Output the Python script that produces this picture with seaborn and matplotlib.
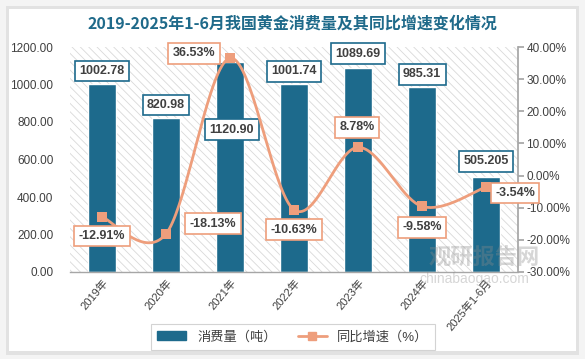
import numpy as np
import pandas as pd
import matplotlib
matplotlib.use("Agg")
import matplotlib.pyplot as plt
import seaborn as sns
from matplotlib.patches import Rectangle, Patch
from matplotlib.lines import Line2D

categories = ["2019年", "2020年", "2021年", "2022年", "2023年", "2024年", "2025年1-6月"]
consumption = [1002.78, 820.98, 1120.90, 1001.74, 1089.69, 985.31, 505.205]
consumption_labels = ["1002.78", "820.98", "1120.90", "1001.74", "1089.69", "985.31", "505.205"]
growth = [-12.91, -18.13, 36.53, -10.63, 8.78, -9.58, -3.54]
left_ticks = [0, 200, 400, 600, 800, 1000, 1200]
right_ticks = [-30, -20, -10, 0, 10, 20, 30, 40]

title = "2019-2025年1-6月我国黄金消费量及其同比增速变化情况"
bar_name = "消费量（吨）"
line_name = "同比增速（%）"

BAR = "#1D6A8C"
LINE = "#EE9E7C"
TXT = "#404040"

sns.set_theme(style="white")
plt.rcParams["font.family"] = ["Liberation Sans", "Noto Sans CJK SC", "DejaVu Sans"]
plt.rcParams["hatch.linewidth"] = 0.6

fig = plt.figure(figsize=(5.85, 3.59), dpi=100)
fig.patch.set_facecolor("white")
# card shadow + card
fig.add_artist(Rectangle((0.0, 0.0), 1.0, 1.0, transform=fig.transFigure,
                         facecolor="#f4f4f4", edgecolor="none", zorder=-3))
fig.add_artist(Rectangle((6/585, 4/359), 573/585, 349/359, transform=fig.transFigure,
                         facecolor="#e2e2e2", edgecolor="none", zorder=-2))
fig.add_artist(Rectangle((9/585, 8/359), 567/585, 342/359, transform=fig.transFigure,
                         facecolor="white", edgecolor="none", zorder=-1))

ax = fig.add_axes([70/585, 1 - 272/359, 448/585, 225/359])
ax.patch.set_facecolor("white")
ax.patch.set_alpha(0)
# hatched background
ax.add_patch(Rectangle((0, 0), 1, 1, transform=ax.transAxes, facecolor="white",
                       edgecolor="#d9d9d9", hatch="\\\\\\\\", linewidth=0, zorder=0))

df = pd.DataFrame({"cat": categories, "val": consumption})
sns.barplot(data=df, x="cat", y="val", color=BAR, width=0.44, ax=ax,
            edgecolor="white", linewidth=1.0, saturation=1, zorder=2)
ax.set_ylim(0, 1200)
ax.set_xlim(-0.5, len(categories) - 0.5)
ax.set_yticks(left_ticks)
ax.set_yticklabels([f"{v:.2f}" for v in left_ticks], fontsize=8.5, color=TXT)
ax.set_xlabel("")
ax.set_ylabel("")
ax.tick_params(axis="y", length=0, pad=12)
ax.tick_params(axis="x", length=0, pad=4)
ax.set_xticks(range(len(categories)))
ax.set_xticklabels(categories, rotation=50, ha="right", rotation_mode="anchor",
                   fontsize=8, color=TXT)
for s in ["top", "left", "right"]:
    ax.spines[s].set_visible(False)
ax.spines["bottom"].set_color("#a6a6a6")
ax.spines["bottom"].set_linewidth(1.0)
ax.grid(False)

bar_off = [(0, 13), (0, 13), (2, -68), (0, 13), (0, 14), (0, 13), (0, 16)]
for i, (v, lab) in enumerate(zip(consumption, consumption_labels)):
    ax.annotate(lab, (i, v), xytext=bar_off[i], textcoords="offset pixels",
                ha="center", va="center", fontsize=9, fontweight="bold", color=TXT,
                bbox=dict(boxstyle="square,pad=0.35", fc="white", ec=BAR, lw=1.2),
                zorder=6)

ax2 = ax.twinx()
ax2.set_ylim(-30, 40)
ax2.set_yticks(right_ticks)
ax2.set_yticklabels([f"{v:.2f}%" for v in right_ticks], fontsize=8.5, color=TXT)
ax2.tick_params(axis="y", direction="out", length=4, color="#a6a6a6", pad=2)
for s in ["top", "left", "bottom"]:
    ax2.spines[s].set_visible(False)
ax2.spines["right"].set_color("#a6a6a6")
ax2.grid(False)

# smooth (Catmull-Rom) rendering of the growth line
xs = np.arange(len(growth), dtype=float)
ys = np.asarray(growth, dtype=float)
px = np.concatenate([[xs[0]], xs, [xs[-1]]])
py = np.concatenate([[ys[0]], ys, [ys[-1]]])
sx, sy = [], []
t = np.linspace(0, 1, 40)
for k in range(1, len(px) - 2):
    p0, p1, p2, p3 = py[k-1], py[k], py[k+1], py[k+2]
    q0, q1, q2, q3 = px[k-1], px[k], px[k+1], px[k+2]
    m1, m2 = (p2 - p0) / 2, (p3 - p1) / 2
    n1, n2 = (q2 - q0) / 2, (q3 - q1) / 2
    h00 = 2*t**3 - 3*t**2 + 1; h10 = t**3 - 2*t**2 + t
    h01 = -2*t**3 + 3*t**2; h11 = t**3 - t**2
    sx.append(h00*q1 + h10*n1 + h01*q2 + h11*n2)
    sy.append(h00*p1 + h10*m1 + h01*p2 + h11*m2)
sx = np.concatenate(sx); sy = np.concatenate(sy)
sns.lineplot(x=sx, y=sy, ax=ax2, color=LINE, linewidth=2.0, sort=False, zorder=4)
sns.scatterplot(x=xs, y=ys, ax=ax2, marker="s", s=60, color=LINE, edgecolor=LINE,
                linewidth=0, zorder=5)

line_off = [(0, -19), (47, 10), (-36, 5), (0, -20), (-1, 20), (0, -21), (29, -6)]
for i, v in enumerate(growth):
    ax2.annotate(f"{v:.2f}%", (i, v), xytext=line_off[i], textcoords="offset pixels",
                 ha="center", va="center", fontsize=9, fontweight="bold", color=TXT,
                 bbox=dict(boxstyle="square,pad=0.35", fc="white", ec=LINE, lw=1.2),
                 zorder=7)

fig.text(292/585, 1 - 24/359, title, ha="center", va="center", fontsize=11.5,
         fontweight="bold", color="#1F6A8A", family=["Noto Sans CJK SC", "DejaVu Sans"])

handles = [Patch(facecolor=BAR, edgecolor=BAR),
           Line2D([0], [0], color=LINE, lw=2, marker="s", markersize=6)]
leg = fig.legend(handles, [bar_name, line_name], loc="center",
                 bbox_to_anchor=(293/585, 1 - 337/359), ncol=2, frameon=True,
                 fontsize=9.5, handlelength=2.2, columnspacing=1.6, borderpad=0.5,
                 fancybox=False)
leg.get_frame().set_edgecolor("#c8c8c8")
leg.get_frame().set_linewidth(0.8)
for tx in leg.get_texts():
    tx.set_color(TXT)

# watermark
fig.text(484/585, 1 - 258/359, "观研报告网", ha="center", va="center", fontsize=16,
         fontweight="bold", color="#8a8a8a", alpha=0.35, zorder=10,
         family=["Noto Sans CJK SC", "DejaVu Sans"])
fig.text(474/585, 1 - 279/359, "chinabaogao.com", ha="center", va="center",
         fontsize=10, color="#8a8a8a", alpha=0.35, zorder=10)

fig.savefig("out.png", dpi=100)
